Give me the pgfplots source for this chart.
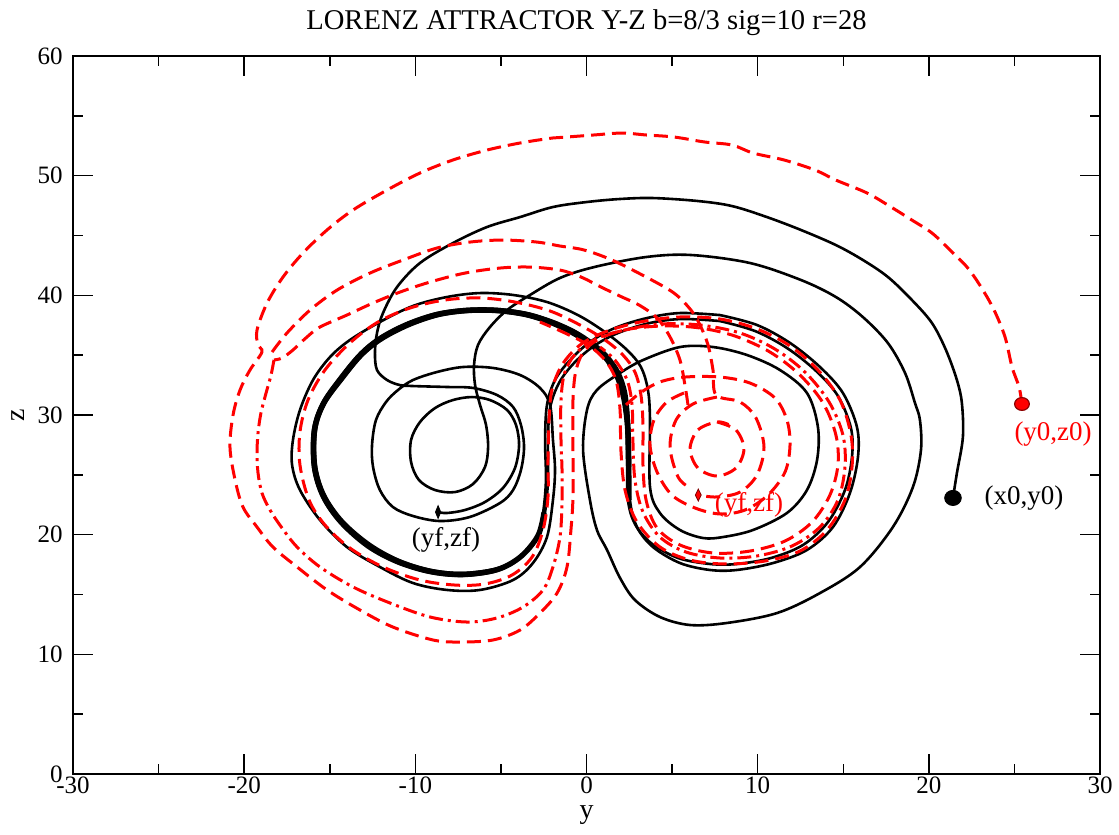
\documentclass[border=0pt]{standalone}
\usepackage{fontspec}
\setmainfont{Liberation Serif}
\usepackage{pgfplots}
\pgfplotsset{compat=1.18}
\begin{document}
\begin{tikzpicture}
\begin{axis}[
  scale only axis, width=513.5pt, height=359pt,
  xmin=-30, xmax=30, ymin=0, ymax=60,
  xtick={-30,-20,-10,0,10,20,30}, ytick={0,10,20,30,40,50,60},
  minor xtick={-25,-15,-5,5,15,25}, minor ytick={5,15,25,35,45,55},
  tick align=inside, major tick length=10pt, minor tick length=5pt,
  every tick/.style={black, line width=0.75pt},
  axis line style={line width=0.9pt},
  /pgf/number format/assume math mode=true,
  xticklabel style={font=\fontsize{12.5}{14}\selectfont, anchor=north, inner sep=0pt, yshift=-1.2pt},
  yticklabel style={font=\fontsize{12.5}{14}\selectfont, anchor=east, inner sep=0pt, xshift=-5pt},
  blk/.style={black, line width=1.3pt, smooth, tension=0.55},
  rd/.style={red, line width=1.5pt, smooth, tension=0.55, dash pattern=on 7pt off 3.5pt},
  rdd/.style={red, line width=1.5pt, smooth, tension=0.55, dash pattern=on 7pt off 2.5pt on 1.5pt off 2.5pt},
]
\coordinate (SW) at (rel axis cs:0,0);
\coordinate (NE) at (rel axis cs:1,1);
% ---- black trajectory
\addplot[blk] coordinates {(21.41,23.07) (21.64,25.15) (21.99,28.16) (21.93,31.00) (21.64,32.92) (21.00,35.43) (20.18,37.69) (19.01,39.61) (17.61,41.53) (16.15,42.95) (14.57,44.20) (12.53,45.46) (10.54,46.54) (8.50,47.46) (6.51,47.88) (3.88,48.13) (1.96,48.05) (0.03,47.80) (-1.96,47.38) (-3.88,46.54) (-5.81,45.71) (-7.80,44.37) (-9.73,42.70) (-11.07,40.69) (-11.89,38.52) (-12.24,36.85) (-12.36,35.18) (-12.24,33.76) (-11.65,32.92) (-10.90,32.50) (-10.14,32.42) (-8.15,32.34) (-6.63,32.26) (-5.23,31.67) (-4.29,30.67) (-3.83,29.17) (-3.65,27.32) (-3.83,25.40) (-4.29,23.73) (-5.05,22.65) (-6.81,21.48) (-8.56,21.14) (-10.14,21.56) (-11.31,22.31) (-12.07,23.73) (-12.47,25.65) (-12.53,27.49) (-12.30,29.58) (-11.71,31.09) (-11.01,32.09) (-10.14,32.92) (-8.74,33.59) (-7.21,34.01) (-5.46,33.93) (-3.88,33.34) (-2.72,32.26) (-2.13,30.84) (-1.96,27.91) (-1.84,25.40) (-1.96,22.90) (-2.31,19.80) (-3.13,17.63) (-4.29,16.21) (-6.22,15.38) (-8.15,15.38) (-10.14,15.96) (-12.07,17.30) (-14.00,18.97) (-15.57,21.22) (-16.74,23.73) (-17.20,25.82) (-17.15,27.91) (-16.74,30.42) (-15.98,32.92) (-14.98,34.85) (-13.82,36.27) (-12.07,37.77) (-10.14,39.11) (-8.15,39.86) (-6.22,40.19) (-4.29,40.03) (-2.31,39.44) (-0.50,38.35) (1.08,36.93) (2.37,35.43) (3.18,34.01) (3.59,32.09) (3.71,29.58) (3.71,23.98) (4.29,21.81) (5.46,20.39) (6.81,19.72) (7.97,19.80) (9.73,20.39) (11.71,21.81) (12.88,23.73) (13.47,26.24) (13.52,29.00) (12.88,31.84) (11.30,33.76) (9.38,35.01) (7.39,35.68) (5.46,35.68) (3.30,34.59) (1.96,33.51) (0.61,32.09) (0.03,30.42) (-0.20,27.07) (0.20,22.90) (0.61,20.39) (1.20,18.72) (1.96,16.38) (2.83,14.54) (4.29,13.12) (6.05,12.45) (8.20,12.62) (11.13,13.45) (13.64,15.12) (15.98,17.30) (17.90,20.64) (19.07,23.98) (19.54,27.07) (19.48,29.58) (19.19,31.00) (18.61,33.51) (17.61,36.01) (16.15,38.18) (14.57,39.86) (12.53,41.28) (9.55,42.70) (6.10,43.37) (3.48,43.20) (0.44,42.36) (-1.55,41.45) (-3.30,40.03) (-4.64,38.77) (-5.64,37.35) (-6.34,35.85) (-6.57,34.18) (-6.51,32.50) (-6.22,30.84) (-5.87,29.17) (-5.75,27.32) (-5.93,25.65) (-6.63,24.23) (-7.68,23.56) (-8.85,23.73) (-9.79,24.57) (-10.25,26.07) (-10.25,27.91) (-9.73,29.41) (-8.85,30.58) (-7.80,31.25) (-6.69,31.50) (-5.64,31.25) (-4.64,30.42) (-4.12,29.17) (-3.94,27.49) (-4.18,25.57) (-4.88,23.90) (-5.93,22.73) (-7.10,22.06) (-8.15,21.81) (-8.67,21.89)};
\addplot[blk] coordinates {(7.80,38.35) (5.46,38.52) (3.53,38.10) (1.66,37.27) (0.20,36.10) (-0.96,34.59) (-1.84,32.92) (-2.31,30.84) (-2.42,27.91) (-2.37,24.57) (-2.54,21.81) (-2.89,19.80) (-3.88,18.05) (-5.23,16.96) (-7.21,16.55) (-9.14,16.80) (-11.07,17.63) (-12.82,18.97) (-14.40,20.97) (-15.45,23.15) (-15.98,25.65) (-15.98,28.75) (-15.45,31.00) (-14.40,33.17) (-13.23,35.18) (-12.07,36.52) (-10.49,37.69) (-8.74,38.52) (-6.98,38.86) (-5.23,38.86) (-3.48,38.52) (-1.96,37.85) (-0.67,37.02) (0.32,36.10) (1.20,35.01) (1.90,33.59) (2.31,31.84) (2.48,29.33) (2.54,26.24) (2.54,22.90) (2.95,20.64) (3.88,18.97) (5.46,17.63) (7.21,17.05) (8.79,17.05) (10.90,17.63) (12.88,18.72) (14.40,20.64) (15.39,23.48) (15.86,26.49) (15.80,29.00) (14.98,31.84) (13.64,34.01) (11.89,36.02) (9.96,37.52) (7.80,38.35)};
\addplot[blk] coordinates {(7.80,37.85) (5.58,38.02) (3.71,37.69) (1.84,36.85) (0.44,35.77) (-0.73,34.34) (-1.61,32.67) (-2.13,30.58) (-2.25,27.91) (-2.25,24.57) (-2.42,21.89) (-2.77,20.05) (-3.77,18.30) (-5.17,17.21) (-7.21,16.80) (-9.08,17.05) (-10.95,17.88) (-12.65,19.22) (-14.22,21.14) (-15.28,23.31) (-15.80,25.74) (-15.80,28.75) (-15.28,30.92) (-14.22,33.01) (-13.11,34.93) (-11.95,36.27) (-10.37,37.44) (-8.67,38.27) (-6.98,38.61) (-5.23,38.61) (-3.53,38.27) (-2.07,37.60) (-0.85,36.77) (0.15,35.85) (1.02,34.76) (1.66,33.34) (2.07,31.59) (2.31,29.17) (2.37,26.24) (2.42,22.90) (2.83,20.89) (3.77,19.30) (5.35,18.05) (7.21,17.55) (8.79,17.55) (10.78,18.05) (12.65,19.14) (14.11,21.06) (15.10,23.73) (15.51,26.49) (15.45,28.91) (14.69,31.59) (13.41,33.68) (11.71,35.60) (9.84,37.02) (7.80,37.85)};
\addplot[black, line width=2.7pt, smooth, tension=0.55] coordinates {(-2.48,21.85) (-2.83,19.93) (-3.83,18.18) (-5.20,17.09) (-7.21,16.68) (-9.11,16.93) (-11.01,17.76) (-12.74,19.10) (-14.31,21.06) (-15.37,23.23) (-15.89,25.70) (-15.89,28.75) (-15.37,30.96) (-14.31,33.09) (-13.17,35.06) (-12.01,36.40) (-10.43,37.57) (-8.71,38.40) (-6.98,38.74) (-5.23,38.74) (-3.51,38.40) (-2.02,37.73) (-0.76,36.90) (0.24,35.98) (1.11,34.89) (1.78,33.47) (2.19,31.72) (2.40,29.25) (2.46,26.24) (2.48,22.90)};
% ---- red trajectory
\addplot[rd] coordinates {(25.44,30.92) (25.27,32.34) (24.86,34.01) (24.45,36.52) (23.81,38.77) (23.05,40.69) (22.23,42.36) (21.23,43.79) (20.18,45.21) (19.01,46.29) (17.79,47.38) (16.39,48.55) (14.57,49.63) (13.35,50.47) (11.54,51.31) (9.73,51.89) (8.50,52.56) (6.92,52.81) (5.11,53.23) (3.48,53.40) (2.07,53.56) (0.44,53.40) (-1.14,53.23) (-1.96,53.15) (-3.88,52.73) (-5.81,52.14) (-7.80,51.31) (-9.73,50.22) (-11.65,48.80) (-13.64,47.13) (-15.16,45.46) (-16.56,43.54) (-17.73,41.53) (-18.66,39.36) (-19.25,37.10) (-19.19,35.85) (-18.96,35.26) (-19.66,33.76) (-20.24,32.09) (-20.65,30.00) (-20.83,27.32) (-20.53,24.57) (-20.07,22.31) (-19.25,20.64) (-18.32,18.97) (-16.91,17.30) (-15.16,15.38) (-13.23,13.70) (-11.31,12.28) (-8.97,11.20) (-7.39,11.03) (-5.46,11.20) (-3.88,12.03) (-2.72,13.45) (-1.72,15.12) (-1.14,17.30) (-0.91,20.39) (-0.79,23.15) (-0.79,27.32) (-0.79,31.25) (-0.61,33.76) (-0.09,35.43) (0.96,36.52) (2.54,37.19) (4.59,37.44) (6.63,37.27) (8.67,36.60) (10.72,35.26) (12.47,33.34) (13.82,31.00) (14.57,28.33) (14.69,25.82) (14.22,23.31) (13.18,21.06) (11.60,19.47) (9.55,18.63) (7.39,18.47) (5.46,19.14) (4.12,20.56) (3.48,22.90) (3.30,25.82) (3.30,29.16) (3.18,31.67) (2.83,33.59) (2.13,35.01) (1.08,36.27) (-0.38,37.52) (-2.13,38.69) (-4.18,39.44) (-6.22,39.78) (-8.27,39.61) (-10.31,38.94) (-12.18,37.77) (-13.82,36.02) (-15.28,33.76) (-16.27,31.25) (-16.74,28.58) (-16.74,25.82) (-16.21,22.90) (-15.28,20.81) (-13.82,18.88) (-11.89,17.30) (-9.73,16.21) (-7.68,15.79) (-5.93,15.88) (-4.35,16.63) (-3.18,18.13) (-2.54,20.39) (-2.25,23.15) (-2.25,26.24) (-2.19,29.58) (-2.02,32.09) (-1.43,34.18) (-0.38,35.85) (1.08,36.94) (3.13,37.77) (5.46,38.19) (7.80,38.02) (9.96,37.19) (11.89,35.77) (13.52,33.76) (14.81,31.25) (15.45,28.33) (15.51,25.65) (15.10,22.90) (14.05,20.39) (12.47,18.63) (10.43,17.80) (8.09,17.55) (6.05,17.88) (4.29,18.97) (2.95,21.06) (2.25,23.73) (2.01,27.07) (1.96,30.42) (1.72,32.92) (1.08,34.59) (0.09,35.85) (-1.26,36.85) (-2.72,37.77)};
\addplot[rd] coordinates {(-18.37,35.26) (-17.50,36.85) (-16.15,38.77) (-14.57,40.44) (-12.65,41.86) (-10.72,42.95) (-8.74,43.95) (-6.81,44.45) (-4.88,44.62) (-2.89,44.45) (-1.55,44.12) (-0.15,43.79) (1.49,42.95) (3.48,41.53) (5.11,40.19) (6.10,38.77) (6.63,37.52) (7.10,35.85) (7.39,33.76) (7.57,31.67) (8.97,31.09) (9.90,29.75) (10.37,27.32) (9.96,24.99) (8.97,23.56) (7.62,23.15) (6.51,23.31)};
\addplot[rd] coordinates {(5.93,30.84) (5.75,32.51) (5.46,34.59) (4.88,36.52) (4.12,38.11) (3.07,39.19) (2.07,39.86) (0.85,40.69) (-0.32,41.53) (-1.55,42.11) (-3.30,42.36) (-5.05,42.28) (-7.10,41.86) (-9.14,41.11) (-10.90,40.27) (-12.47,39.36) (-14.00,38.35) (-15.57,37.35) (-16.33,36.52) (-17.15,35.43) (-17.79,34.76) (-18.26,34.60)};
\addplot[rdd] coordinates {(-18.26,34.60) (-18.43,33.34) (-18.72,31.84) (-19.02,30.17) (-19.19,28.50) (-19.25,26.82) (-19.19,25.15) (-18.96,23.48) (-18.49,22.06) (-17.79,20.56) (-16.91,18.97) (-15.57,17.30) (-13.64,15.63) (-11.48,14.29) (-9.14,13.12) (-6.98,12.70) (-5.23,13.04) (-3.71,13.95) (-2.54,15.38) (-1.96,17.30) (-1.55,19.80) (-1.43,22.65) (-1.43,25.40) (-1.49,27.91) (-1.49,31.25) (-1.26,33.59) (-0.55,35.26) (0.67,36.43) (2.25,37.10) (4.29,37.60) (6.63,37.52) (8.97,36.85) (11.01,35.51) (12.76,33.59) (14.17,31.09) (14.98,28.33) (15.10,25.65) (14.69,22.90) (13.64,20.64) (12.00,19.05) (9.96,18.22) (7.80,18.05) (5.81,18.55) (4.29,19.80) (3.30,21.89) (2.83,24.57) (2.71,27.91) (2.66,30.84) (2.37,32.92) (1.66,34.59) (0.79,35.68)};
\addplot[rd] coordinates {(2.31,30.84) (3.13,31.84) (4.29,32.76) (5.75,33.17) (7.80,33.17) (9.55,32.67) (11.01,31.42) (11.71,29.58) (11.89,27.49) (11.60,25.24) (10.60,23.31) (9.26,22.06) (7.80,21.73) (6.34,22.23) (4.99,23.31) (4.12,25.24) (3.71,27.49) (3.94,29.58) (4.70,31.09) (5.80,31.90)};
\addplot[rd] coordinates {(7.62,31.50) (6.22,30.92) (5.23,29.58) (4.88,27.32) (5.35,24.82) (6.05,23.90)};
\addplot[rd] coordinates {(7.62,29.42) (8.73,28.75) (9.20,27.16) (8.73,25.57) (7.62,24.90) (6.51,25.57) (6.05,27.16) (6.51,28.75) (7.62,29.42) (8.30,29.20)};
% ---- markers
\addplot[only marks, mark=*, mark size=3.8pt, black, mark options={xscale=1.1}] coordinates {(21.41,23.07)};
\addplot[only marks, mark=*, mark size=3.2pt, mark options={fill=red, draw=red!55!black, line width=0.6pt, xscale=1.15}] coordinates {(25.44,30.92)};
\addplot[only marks, mark=diamond*, mark size=3.2pt, black, mark options={xscale=0.55}] coordinates {(-8.67,21.89)};
\addplot[only marks, mark=diamond*, mark size=3pt, mark options={fill=red, draw=red!50!black, line width=0.4pt, xscale=0.65}] coordinates {(6.53,23.31)};
% ---- labels
\node[font=\fontsize{13.5}{15}\selectfont, black] at (axis cs:25.56,23.06) {(x0,y0)};
\node[font=\fontsize{13.5}{15}\selectfont, red] at (axis cs:27.26,28.41) {(y0,z0)};
\node[font=\fontsize{13.5}{15}\selectfont, black] at (axis cs:-8.21,19.55) {(yf,zf)};
\node[font=\fontsize{13.5}{15}\selectfont, red] at (axis cs:9.49,22.48) {(yf,zf)};
\end{axis}
\node[anchor=base, font=\fontsize{14.3}{16}\selectfont] at ([xshift=256.75pt,yshift=372pt]SW) {LORENZ ATTRACTOR Y-Z b=8/3 sig=10 r=28};
\node[anchor=base, inner sep=0pt, font=\fontsize{14}{16}\selectfont] at ([xshift=256.75pt,yshift=-22pt]SW) {y};
\node[rotate=90, anchor=center, font=\fontsize{14}{16}\selectfont] at ([xshift=-27.5pt,yshift=179.5pt]SW) {z};
\pgfresetboundingbox
\path[use as bounding box] ([shift={(-36.5pt,-30pt)}]SW) rectangle ([shift={(9.5pt,28pt)}]NE);
\end{tikzpicture}
\end{document}
